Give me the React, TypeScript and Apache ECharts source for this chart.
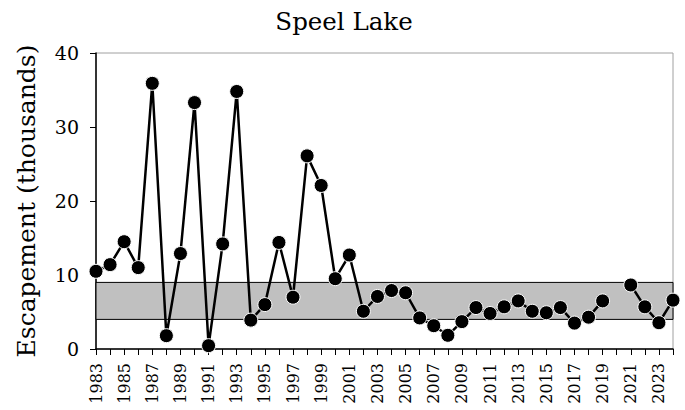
import React, { useEffect, useRef } from "react";
import * as echarts from "echarts";

const years: string[] = [];
for (let y = 1983; y <= 2024; y++) years.push(String(y));

const escapement: (number | null)[] = [
  10.5, 11.4, 14.5, 11.0, 35.9, 1.8, 12.9, 33.3, 0.45, 14.2,
  34.8, 3.9, 6.0, 14.4, 7.0, 26.1, 22.1, 9.5, 12.7, 5.1,
  7.1, 7.9, 7.6, 4.2, 3.15, 1.85, 3.7, 5.6, 4.8, 5.7,
  6.5, 5.1, 4.9, 5.6, 3.5, 4.3, 6.5, null, 8.65, 5.7,
  3.55, 6.6,
];

const goalRange: [number, number] = [4, 9];

const FONT = "DejaVu Serif";

export default function App() {
  const ref = useRef<HTMLDivElement>(null);
  useEffect(() => {
    if (!ref.current) return;
    const chart = echarts.init(ref.current, undefined, { renderer: "svg" });
    chart.setOption({
      animation: false,
      backgroundColor: "#fff",
      textStyle: { fontFamily: FONT },
      title: {
        text: "Speel Lake",
        left: 339,
        textAlign: "center",
        top: 4,
        textStyle: { fontFamily: FONT, fontSize: 24.5, fontWeight: "normal", color: "#000" },
      },
      grid: {
        left: 96,
        right: 12,
        top: 53,
        bottom: 61,
        show: true,
        borderColor: "#a0a0a0",
        borderWidth: 1,
      },
      xAxis: {
        type: "category",
        data: years,
        boundaryGap: false,
        axisLine: { lineStyle: { color: "#000", width: 1.5 } },
        axisTick: { show: true, interval: 0, length: 6, lineStyle: { color: "#000" } },
        axisLabel: {
          interval: 1,
          rotate: 90,
          margin: 14,
          fontFamily: FONT,
          fontSize: 16,
          color: "#000",
        },
        splitLine: { show: false },
      },
      yAxis: {
        type: "value",
        min: 0,
        max: 40,
        interval: 10,
        name: "Escapement (thousands)",
        nameLocation: "middle",
        nameGap: 57,
        nameTextStyle: { fontFamily: FONT, fontSize: 25, color: "#000" },
        axisLine: { show: true, lineStyle: { color: "#000", width: 1.5 } },
        axisTick: { show: true, length: 6, lineStyle: { color: "#000" } },
        axisLabel: { margin: 17, fontFamily: FONT, fontSize: 19, color: "#000" },
        splitLine: { show: false },
      },
      series: [
        {
          type: "line",
          data: escapement,
          connectNulls: false,
          showAllSymbol: true,
          symbol: "circle",
          symbolSize: 14,
          itemStyle: { color: "#000", borderColor: "#fff", borderWidth: 1 },
          lineStyle: { color: "#000", width: 2.5 },
          z: 3,
          markArea: {
            silent: true,
            itemStyle: { color: "#c0c0c0", borderColor: "#000", borderWidth: 1 },
            data: [[{ yAxis: goalRange[0] }, { yAxis: goalRange[1] }]],
          },
        },
      ],
    });
    return () => chart.dispose();
  }, []);
  return <div ref={ref} style={{ width: 685, height: 410, position: "absolute", left: 0, top: 0 }} />;
}
